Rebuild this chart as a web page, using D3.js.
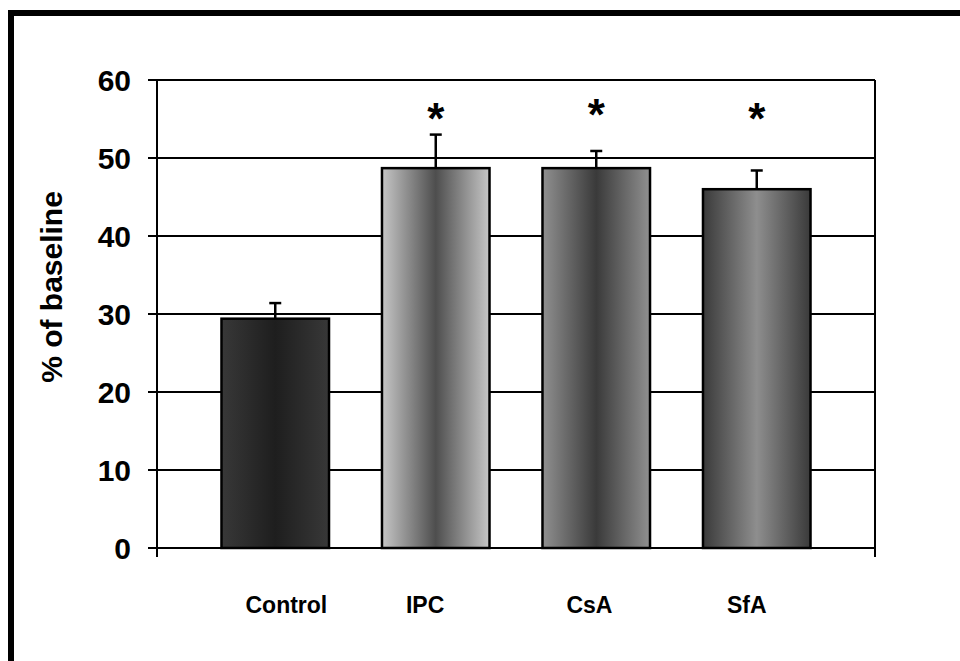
<!DOCTYPE html>
<html>
<head>
<meta charset="utf-8">
<script src="https://cdn.jsdelivr.net/npm/d3@7"></script>
<style>
  body { margin: 0; background: #fff; }
  svg { display: block; }
  text { font-family: 'Liberation Sans', Arial, sans-serif; font-weight: bold; fill: #000; }
</style>
</head>
<body>
<div id="chart"></div>
<script>
'use strict';
var groups = ['Control', 'IPC', 'CsA', 'SfA'];
var means = [29.4, 48.7, 48.7, 46.0];
var errors = [2.0, 4.3, 2.2, 2.4];
var significant = [false, true, true, true];
var yTicks = [0, 10, 20, 30, 40, 50, 60];

// edge / centre shades of the horizontal bar gradients
var shades = [
  ['#383838', '#1e1e1e'],
  ['#c6c6c6', '#4e4e4e'],
  ['#909090', '#3a3a3a'],
  ['#3a3a3a', '#8e8e8e']
];

var width = 960, height = 661;
var plotLeft = 157, plotRight = 875, plotTop = 80, plotBottom = 548;

var svg = d3.select('#chart').append('svg')
  .attr('width', width)
  .attr('height', height);

var y = d3.scaleLinear().domain([0, 60]).range([plotBottom, plotTop]);
var x = d3.scaleBand().domain(groups).range([195, 837])
  .paddingInner(0.33).paddingOuter(0.165);

var defs = svg.append('defs');
groups.forEach(function(g, i) {
  var grad = defs.append('linearGradient')
    .attr('id', 'grad' + i)
    .attr('x1', '0%').attr('x2', '100%')
    .attr('y1', '0%').attr('y2', '0%');
  grad.append('stop').attr('offset', '0%').attr('stop-color', shades[i][0]);
  grad.append('stop').attr('offset', '50%').attr('stop-color', shades[i][1]);
  grad.append('stop').attr('offset', '100%').attr('stop-color', shades[i][0]);
});

// outer frame
svg.append('rect')
  .attr('x', 11).attr('y', 13)
  .attr('width', width + 20).attr('height', height + 20)
  .attr('fill', 'none')
  .attr('stroke', '#000')
  .attr('stroke-width', 6);

// gridlines with left ticks
svg.append('g').selectAll('line')
  .data(yTicks)
  .enter()
  .append('line')
  .attr('x1', plotLeft - 9)
  .attr('x2', plotRight)
  .attr('y1', function(d) { return y(d); })
  .attr('y2', function(d) { return y(d); })
  .attr('stroke', '#000')
  .attr('stroke-width', 2);

// vertical axis lines
[plotLeft, plotRight].forEach(function(px) {
  svg.append('line')
    .attr('x1', px).attr('x2', px)
    .attr('y1', plotTop).attr('y2', plotBottom + 9)
    .attr('stroke', '#000')
    .attr('stroke-width', 2);
});

svg.append('g').selectAll('text')
  .data(yTicks)
  .enter()
  .append('text')
  .attr('x', 131)
  .attr('y', function(d) { return y(d); })
  .attr('dy', '0.36em')
  .attr('text-anchor', 'end')
  .style('font-size', '30px')
  .text(function(d) { return d; });

svg.append('text')
  .attr('transform', 'translate(62,287) rotate(-90)')
  .attr('text-anchor', 'middle')
  .style('font-size', '30px')
  .text('% of baseline');

// bars
var bars = svg.append('g').selectAll('g')
  .data(groups)
  .enter()
  .append('g');

bars.append('line')
  .attr('x1', function(d) { return x(d) + x.bandwidth() / 2; })
  .attr('x2', function(d) { return x(d) + x.bandwidth() / 2; })
  .attr('y1', function(d, i) { return y(means[i]); })
  .attr('y2', function(d, i) { return y(means[i] + errors[i]); })
  .attr('stroke', '#000')
  .attr('stroke-width', 2.5);

bars.append('line')
  .attr('x1', function(d) { return x(d) + x.bandwidth() / 2 - 6; })
  .attr('x2', function(d) { return x(d) + x.bandwidth() / 2 + 6; })
  .attr('y1', function(d, i) { return y(means[i] + errors[i]); })
  .attr('y2', function(d, i) { return y(means[i] + errors[i]); })
  .attr('stroke', '#000')
  .attr('stroke-width', 2.5);

bars.append('rect')
  .attr('x', function(d) { return x(d); })
  .attr('width', x.bandwidth())
  .attr('y', function(d, i) { return y(means[i]); })
  .attr('height', function(d, i) { return y(0) - y(means[i]); })
  .attr('fill', function(d, i) { return 'url(#grad' + i + ')'; })
  .attr('stroke', '#000')
  .attr('stroke-width', 2.5);

bars.filter(function(d, i) { return significant[i]; })
  .append('text')
  .attr('x', function(d) { return x(d) + x.bandwidth() / 2; })
  .attr('y', function(d, i) { return i === 1 ? 130 : 134; })
  .attr('text-anchor', 'middle')
  .style('font-size', '44px')
  .text('*');

// category labels
svg.append('g').selectAll('text')
  .data(groups)
  .enter()
  .append('text')
  .attr('x', function(d) { return x(d) + 24; })
  .attr('y', 613)
  .style('font-size', '23px')
  .text(function(d) { return d; });
</script>
</body>
</html>
